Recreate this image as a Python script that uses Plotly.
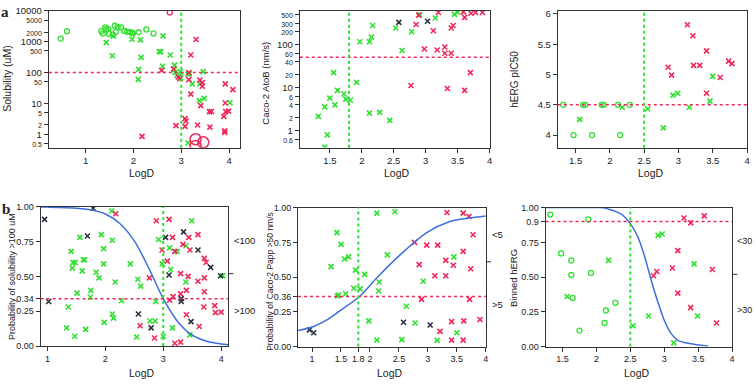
import plotly.graph_objects as go

W, H = 756, 386

# ---------------- Panel a1: Solubility vs LogD ----------------
a1_go_x = [0.48, 0.61, 1.33, 1.36, 1.41, 1.43, 1.47, 1.49, 1.57, 1.61, 1.63, 1.67, 1.74, 1.81, 1.87, 1.93, 1.97, 1.99, 2.11, 2.27, 2.42]
a1_go_y = [1260, 2200, 2200, 1860, 2900, 2500, 2600, 1780, 1700, 3300, 2050, 2950, 2900, 2240, 2100, 2050, 1950, 1860, 2050, 2500, 1860]
a1_gx_x = [1.58, 1.43, 1.97, 2.15, 2.62, 1.56, 2.16, 2.54, 2.57, 2.77, 2.11, 2.61, 2.86, 2.85, 2.87, 2.98, 2.10, 2.91, 2.99, 3.14, 3.17, 3.23, 3.39, 3.46, 3.38, 3.48, 4.02, 3.14]
a1_gx_y = [1500, 930, 1200, 1150, 1540, 350, 310, 480, 470, 370, 127, 160, 175, 123, 100, 105, 60, 80, 66, 89, 92, 43, 43, 107, 12.3, 14.5, 10.5, 0.52]
a1_rx_x = [3.31, 3.20, 2.59, 2.84, 2.94, 2.97, 3.16, 3.16, 3.39, 3.44, 3.44, 3.92, 4.08, 3.20, 3.41, 3.92, 3.59, 3.63, 3.93, 3.99, 3.08, 3.10, 3.89, 2.89, 3.08, 3.34, 3.60, 3.91, 3.91, 2.18]
a1_rx_y = [1180, 370, 118, 130, 71, 63, 100, 59, 57, 47, 36, 43, 28, 20, 8.5, 10.3, 5.4, 5.4, 5.4, 5.6, 3.2, 2.7, 3.8, 1.9, 1.8, 2.0, 1.7, 1.3, 1.15, 0.85]
a1_ro_x = [2.76]
a1_ro_y = [8900]
a1_big_x = [3.30, 3.46, 3.30]
a1_big_y = [0.69, 0.55, 0.42]
a1_ytick_vals = [10000, 5000, 2000, 1000, 500, 100, 50, 10, 5, 2, 1, 0.5]
a1_ytick_major = [True, False, False, True, False, True, False, True, False, False, True, False]

# ---------------- Panel a2: Caco-2 vs LogD ----------------
a2_gx_x = [1.32, 1.42, 1.46, 1.42, 1.50, 1.56, 1.58, 1.62, 1.72, 1.75, 1.82, 1.92, 1.97, 2.12, 2.15, 2.17, 2.12, 2.28, 2.44, 2.53, 2.63, 2.78, 2.91, 3.15, 3.45, 3.50]
a2_gx_y = [2.1, 3.5, 0.78, 0.4, 5.6, 22, 3.9, 8.5, 7, 5.3, 5, 13, 115, 115, 147, 275, 2.5, 2.6, 1.7, 240, 72, 197, 490, 410, 500, 560]
a2_kx_x = [2.58, 3.03]
a2_kx_y = [325, 345]
a2_rx_x = [2.89, 2.85, 2.77, 2.98, 3.12, 3.20, 3.18, 3.30, 3.30, 3.34, 3.40, 3.40, 3.43, 3.59, 3.61, 3.61, 3.71, 3.78, 3.89, 3.70]
a2_rx_y = [480, 290, 11, 78, 207, 550, 74, 87, 62, 9.4, 62, 240, 275, 570, 425, 8.5, 530, 550, 550, 22]
a2_ytick_vals = [500, 300, 200, 100, 60, 40, 20, 10, 6, 4, 2, 1, 0.6]
a2_ytick_major = [False, False, False, True, False, False, False, True, False, False, False, True, False]

# ---------------- Panel a3: hERG vs LogD ----------------
a3_go_x = [1.32, 1.47, 1.61, 1.64, 1.74, 1.88, 1.91, 2.12, 2.15, 2.29]
a3_go_y = [4.5, 4.0, 4.5, 4.5, 4.0, 4.5, 4.5, 4.5, 4.0, 4.5]
a3_gx_x = [1.56, 2.18, 2.55, 2.78, 2.92, 2.99, 3.16, 3.46, 3.50]
a3_gx_y = [4.26, 4.46, 4.43, 4.12, 4.66, 4.69, 4.46, 4.56, 4.97]
a3_rx_x = [2.85, 2.90, 3.13, 3.21, 3.22, 3.31, 3.41, 3.41, 3.61, 3.73, 3.78]
a3_rx_y = [5.12, 4.99, 5.82, 5.64, 5.15, 5.15, 5.39, 4.69, 4.95, 5.22, 5.18]

# ---------------- Panel b1: P(solubility >100 uM) ----------------
b1_gx_x = [1.33, 1.36, 1.41, 1.44, 1.43, 1.48, 1.47, 1.51, 1.56, 1.60, 1.62, 1.64, 1.66, 1.75, 1.74, 1.84, 1.89, 1.93, 1.97, 1.97, 1.98, 2.11, 2.12, 2.12, 2.14, 2.17, 2.28, 2.43, 2.56, 2.54, 2.61, 2.77, 2.86, 2.87, 2.92, 2.98, 3.0, 3.11, 3.13, 3.16, 3.24, 3.39, 3.39, 3.46, 3.49, 4.03]
b1_gx_y = [0.13, 0.28, 0.68, 0.60, 0.56, 0.60, 0.07, 0.38, 0.78, 0.54, 0.62, 0.62, 0.12, 0.40, 0.35, 0.53, 0.49, 0.80, 0.70, 0.59, 0.17, 0.97, 0.76, 0.23, 0.20, 0.46, 0.325, 0.59, 0.48, 0.065, 0.43, 0.18, 0.18, 0.32, 0.765, 0.59, 0.07, 0.705, 0.55, 0.13, 0.68, 0.72, 0.46, 0.08, 0.90, 0.505]
b1_rx_x = [2.18, 2.76, 2.88, 3.10, 2.98, 3.16, 3.20, 3.07, 3.34, 3.44, 3.46, 3.60, 3.71, 3.74, 3.30, 3.43, 3.60, 3.71, 3.11, 3.17, 3.30, 3.40, 3.71, 3.70, 3.89, 3.90, 4.0, 3.40, 3.62, 2.60, 2.85, 3.20, 3.30]
b1_rx_y = [0.95, 0.49, 0.90, 0.91, 0.69, 0.78, 0.68, 0.61, 0.73, 0.78, 0.69, 0.80, 0.63, 0.60, 0.52, 0.50, 0.465, 0.49, 0.33, 0.355, 0.375, 0.40, 0.39, 0.28, 0.29, 0.24, 0.244, 0.225, 0.14, 0.146, 0.058, 0.02, 0.028]
b1_kx_x = [0.95, 1.02, 1.79, 1.69, 2.57, 2.79, 3.04, 3.10, 3.31, 3.31, 3.35, 3.48, 3.60, 3.82, 3.99]
b1_kx_y = [0.91, 0.32, 0.99, 0.79, 0.23, 0.13, 0.78, 0.51, 0.34, 0.32, 0.82, 0.175, 0.69, 0.565, 0.505]
b1_fit_x = [0.88, 1.0, 1.5, 1.75, 2.0, 2.25, 2.5, 2.75, 3.0, 3.25, 3.5, 3.75, 4.0, 4.12]
b1_fit_y = [0.999, 0.998, 0.99, 0.978, 0.948, 0.88, 0.755, 0.56, 0.34, 0.175, 0.078, 0.034, 0.014, 0.009]

# ---------------- Panel b2: P(Caco-2 Papp >50 nm/s) ----------------
b2_gx_x = [1.33, 1.43, 1.50, 1.44, 1.46, 1.56, 1.63, 1.58, 1.75, 1.72, 1.83, 1.91, 1.98, 2.12, 2.12, 2.16, 2.15, 2.30, 2.43, 2.55, 2.63, 2.78, 2.92, 3.16, 3.45, 3.50]
b2_gx_y = [0.575, 0.82, 0.735, 0.365, 0.37, 0.63, 0.645, 0.38, 0.55, 0.42, 0.415, 0.52, 0.185, 0.96, 0.047, 0.465, 0.40, 0.66, 0.97, 0.05, 0.29, 0.17, 0.47, 0.045, 0.645, 0.10]
b2_rx_x = [2.77, 2.85, 2.89, 2.98, 3.12, 3.17, 3.31, 3.31, 3.33, 3.44, 3.21, 3.41, 3.41, 3.61, 3.61, 3.62, 3.61, 3.71, 3.74, 3.72, 3.78, 3.90]
b2_rx_y = [0.75, 0.59, 0.34, 0.73, 0.51, 0.73, 0.51, 0.62, 0.965, 0.585, 0.11, 0.18, 0.047, 0.685, 0.96, 0.185, 0.047, 0.935, 0.56, 0.34, 0.805, 0.195]
b2_kx_x = [0.955, 1.03, 2.58, 3.04]
b2_kx_y = [0.12, 0.10, 0.175, 0.155]
b2_fit_x = [0.76, 1.03, 1.25, 1.49, 1.82, 2.12, 2.52, 2.98, 3.38, 3.7, 4.0]
b2_fit_y = [0.115, 0.145, 0.19, 0.26, 0.36, 0.495, 0.66, 0.82, 0.90, 0.925, 0.94]

# ---------------- Panel b3: Binned hERG ----------------
b3_go_x = [1.32, 1.48, 1.63, 1.63, 1.65, 1.75, 1.88, 1.92, 2.12, 2.14, 2.28]
b3_go_y = [0.95, 0.67, 0.62, 0.515, 0.35, 0.115, 0.915, 0.53, 0.17, 0.26, 0.315]
b3_gx_x = [1.57, 2.18, 2.54, 2.77, 2.91, 2.97, 3.14, 3.44, 3.49]
b3_gx_y = [0.36, 0.62, 0.15, 0.22, 0.80, 0.81, 0.027, 0.595, 0.22]
b3_rx_x = [2.84, 2.89, 3.12, 3.20, 3.20, 3.29, 3.39, 3.59, 3.39, 3.71, 3.77]
b3_rx_y = [0.51, 0.54, 0.565, 0.69, 0.385, 0.925, 0.89, 0.94, 0.28, 0.555, 0.17]
b3_fit_x = [1.25, 2.0, 2.11, 2.36, 2.5, 2.61, 2.71, 2.80, 2.90, 3.0, 3.10, 3.20, 3.39, 3.58, 3.65]
b3_fit_y = [1.0, 1.0, 0.998, 0.955, 0.885, 0.79, 0.65, 0.49, 0.33, 0.19, 0.095, 0.045, 0.02, 0.008, 0.005]

# right-axis split positions and labels of the b panels
b_split = [0.52, 0.61, 0.52]
b_right_top = ["&lt;100", "&lt;5", "&lt;30"]
b_right_bot = ["&gt;100", "&gt;5", "&gt;30"]

GREEN = "#2fe02f"
RED = "#f0285a"
DARK = "#2a3040"
BLUE = "#3c6fdc"
FONT = "Liberation Sans, Arial, sans-serif"

fig = go.Figure()


def dx(a, b):
    return [a / W, b / W]


def dy(top, bottom):
    return [1 - bottom / H, 1 - top / H]


def xmark(xs, ys, color, ax, size=5):
    fig.add_trace(go.Scatter(x=xs, y=ys, mode="markers", xaxis=ax[0], yaxis=ax[1],
                             marker=dict(symbol="x-thin", size=size, line=dict(color=color, width=1.6)),
                             showlegend=False, hoverinfo="skip"))


def omark(xs, ys, color, ax, size=5, width=1.3):
    fig.add_trace(go.Scatter(x=xs, y=ys, mode="markers", xaxis=ax[0], yaxis=ax[1],
                             marker=dict(symbol="circle-open", size=size, color=color, line=dict(color=color, width=width)),
                             showlegend=False, hoverinfo="skip"))


def curve(xs, ys, ax):
    fig.add_trace(go.Scatter(x=xs, y=ys, mode="lines", xaxis=ax[0], yaxis=ax[1],
                             line=dict(color=BLUE, width=1.5, shape="spline", smoothing=0.8),
                             showlegend=False, hoverinfo="skip"))


def hline(y, ax, color=RED, width=1.5):
    fig.add_shape(type="line", xref=ax[0] + " domain", yref=ax[1], x0=0, x1=1, y0=y, y1=y,
                  line=dict(color=color, width=width, dash="dot"))


def vline(x, ax, color=GREEN, width=2):
    fig.add_shape(type="line", xref=ax[0], yref=ax[1] + " domain", x0=x, x1=x, y0=0, y1=1,
                  line=dict(color=color, width=width, dash="dot"))


def tick_text(vals, major):
    out = []
    for v, m in zip(vals, major):
        s = ("%g" % v)
        out.append(s if m else '<span style="font-size:7px">%s</span>' % s)
    return out


def axis_common(size):
    return dict(showgrid=False, zeroline=False, showline=True, linecolor="#333333", linewidth=1,
                mirror=True, ticks="outside", ticklen=4, tickcolor="#333333", tickangle=0,
                ticklabeloverflow="allow",
                tickfont=dict(family=FONT, size=size, color="#222222"))


top_row = dy(5, 146)
bot_row1 = dy(206.7, 350)
bot_row = dy(207.5, 350.6)

layout = dict(
    width=W, height=H, margin=dict(l=0, r=0, t=0, b=0),
    paper_bgcolor="white", plot_bgcolor="white", showlegend=False,
    # a1
    xaxis=dict(domain=dx(49, 241), range=[0.23, 4.23], tickvals=[1, 2, 3, 4], anchor="y", **axis_common(9.5)),
    yaxis=dict(domain=top_row, type="log", range=[-0.44, 4.0], tickvals=a1_ytick_vals,
               ticktext=tick_text(a1_ytick_vals, a1_ytick_major), anchor="x", **axis_common(9.5)),
    # a2
    xaxis2=dict(domain=dx(301, 491.5), range=[1.03, 4.0], tickvals=[1.5, 2, 2.5, 3, 3.5, 4],
                ticktext=["1.5", "2", "2.5", "3", "3.5", "4"], anchor="y2", **axis_common(9.5)),
    yaxis2=dict(domain=top_row, type="log", range=[-0.41, 2.78], tickvals=a2_ytick_vals,
                ticktext=tick_text(a2_ytick_vals, a2_ytick_major), anchor="x2", **axis_common(9.5)),
    # a3
    xaxis3=dict(domain=dx(560, 750), range=[1.24, 4.0], tickvals=[1.5, 2, 2.5, 3, 3.5, 4],
                ticktext=["1.5", "2", "2.5", "3", "3.5", "4"], anchor="y3", **axis_common(9.5)),
    yaxis3=dict(domain=top_row, range=[3.79, 6.05], tickvals=[4, 4.5, 5, 5.5, 6],
                ticktext=["4", "4.5", "5", "5.5", "6"], anchor="x3", **axis_common(9.5)),
    # b1
    xaxis4=dict(domain=dx(40.7, 229), range=[0.88, 4.12], tickvals=[1, 2, 3, 4], anchor="y4", **axis_common(9)),
    yaxis4=dict(domain=bot_row1, range=[0, 1], tickvals=[0, 0.25, 0.34, 0.5, 0.75, 1],
                ticktext=["0.00", "0.25", "0.34", "0.50", "0.75", "1.00"], anchor="x4", **axis_common(9)),
    # b2
    xaxis5=dict(domain=dx(299.3, 487.7), range=[0.76, 4.0], tickvals=[1, 1.5, 1.8, 2, 2.5, 3, 3.5, 4],
                ticktext=["1", "1.5", "1.8", "2", "2.5", "3", "3.5", "4"], anchor="y5", **axis_common(9)),
    yaxis5=dict(domain=bot_row, range=[0, 1], tickvals=[0, 0.25, 0.36, 0.5, 0.75, 1],
                ticktext=["0.00", "0.25", "0.36", "0.50", "0.75", "1.00"], anchor="x5", **axis_common(9)),
    # b3
    xaxis6=dict(domain=dx(547.7, 735), range=[1.25, 4.0], tickvals=[1.5, 2, 2.5, 3, 3.5, 4],
                ticktext=["1.5", "2", "2.5", "3", "3.5", "4"], anchor="y6", **axis_common(9)),
    yaxis6=dict(domain=bot_row, range=[0, 1], tickvals=[0, 0.25, 0.5, 0.75, 0.9, 1],
                ticktext=["0.00", "0.25", "0.50", "0.75", "0.9", "1.00"], anchor="x6", **axis_common(9)),
)
fig.update_layout(**layout)

A1, A2, A3 = ("x", "y"), ("x2", "y2"), ("x3", "y3")
B1, B2, B3 = ("x4", "y4"), ("x5", "y5"), ("x6", "y6")

# a1
hline(100, A1); vline(3, A1)
omark(a1_go_x, a1_go_y, GREEN, A1)
xmark(a1_gx_x, a1_gx_y, GREEN, A1)
xmark(a1_rx_x, a1_rx_y, RED, A1)
omark(a1_ro_x, a1_ro_y, RED, A1)
omark(a1_big_x, a1_big_y, RED, A1, size=11, width=1.5)
# a2
hline(50, A2); vline(1.8, A2)
xmark(a2_gx_x, a2_gx_y, GREEN, A2)
xmark(a2_kx_x, a2_kx_y, DARK, A2)
xmark(a2_rx_x, a2_rx_y, RED, A2)
# a3
hline(4.5, A3); vline(2.5, A3)
omark(a3_go_x, a3_go_y, GREEN, A3)
xmark(a3_gx_x, a3_gx_y, GREEN, A3)
xmark(a3_rx_x, a3_rx_y, RED, A3)
# b1
hline(0.34, B1); vline(3, B1)
xmark(b1_gx_x, b1_gx_y, GREEN, B1)
xmark(b1_rx_x, b1_rx_y, RED, B1)
xmark(b1_kx_x, b1_kx_y, DARK, B1)
curve(b1_fit_x, b1_fit_y, B1)
# b2
hline(0.36, B2); vline(1.8, B2)
xmark(b2_gx_x, b2_gx_y, GREEN, B2)
xmark(b2_rx_x, b2_rx_y, RED, B2)
xmark(b2_kx_x, b2_kx_y, DARK, B2)
curve(b2_fit_x, b2_fit_y, B2)
# b3
hline(0.9, B3); vline(2.5, B3)
omark(b3_go_x, b3_go_y, GREEN, B3)
xmark(b3_gx_x, b3_gx_y, GREEN, B3)
xmark(b3_rx_x, b3_rx_y, RED, B3)
curve(b3_fit_x, b3_fit_y, B3)

# short tick marks on the right edge of the b panels
for ax, sv in zip([B1, B2, B3], b_split):
    fig.add_shape(type="line", xref=ax[0] + " domain", yref=ax[1], x0=1.0, x1=1.028, y0=sv, y1=sv,
                  line=dict(color="#333333", width=1))


def txt(x, y, s, size=11, angle=0, xanchor="center", bold=False, family=FONT):
    fig.add_annotation(xref="paper", yref="paper", x=x / W, y=1 - y / H, text=("<b>%s</b>" % s) if bold else s,
                       showarrow=False, textangle=angle, xanchor=xanchor, yanchor="middle",
                       font=dict(family=family, size=size, color="#222222"))


# panel letters
txt(5, 6, "a", size=15, bold=True, family="Liberation Serif, Times New Roman, serif")
txt(6, 209, "b", size=15, bold=True, family="Liberation Serif, Times New Roman, serif")

# axis titles
for xc, yc in [(143, 172), (399, 172), (654, 172), (143, 378), (392, 378), (640, 378)]:
    txt(xc, yc, "LogD", size=10.5)
txt(7, 74, "Solubility (uM)", size=10.5, angle=-90)
txt(267, 79, "Caco-2 AtoB (nm/s)", size=9.5, angle=-90)
txt(517, 75, "hERG pIC50", size=10, angle=-90)
txt(12, 278, "Probability of solubility >100 uM", size=9, angle=-90)
txt(271, 283, "Probability of Caco-2 Papp >50 nm/s", size=8.5, angle=-90)
txt(515, 280, "Binned hERG", size=9.5, angle=-90)

# right-side category labels
txt(233, 241, b_right_top[0], size=9.5, xanchor="left")
txt(233, 313, b_right_bot[0], size=9.5, xanchor="left")
txt(492, 235, b_right_top[1], size=9.5, xanchor="left")
txt(492, 307, b_right_bot[1], size=9.5, xanchor="left")
txt(738, 242, b_right_top[2], size=9, xanchor="left")
txt(738, 313, b_right_bot[2], size=9, xanchor="left")

fig.write_html("out.html", config={"displayModeBar": False},
               post_script="document.body.style.margin='0';document.body.style.overflow='hidden';")
